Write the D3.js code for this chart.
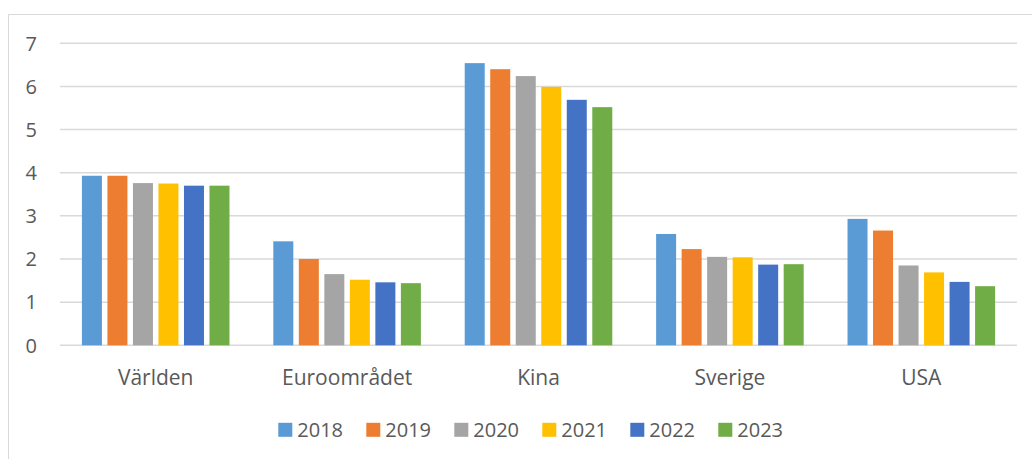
<!DOCTYPE html>
<html lang="sv">

<head>
  <meta charset="UTF-8">
  <title>Bar chart</title>
  <script src="https://cdnjs.cloudflare.com/ajax/libs/d3/7.8.5/d3.min.js"></script>
  <style>
    body {
      margin: 0;
      background: #fff;
    }

    text {
      font-family: "Open Sans", sans-serif;
      fill: #595959;
      font-size: 20px;
    }

    .grid line {
      stroke: #d9d9d9;
      stroke-width: 1.5px;
    }
  </style>
</head>

<body>
  <div id="chart"></div>
  <script>
    const categories = ["Världen", "Euroområdet", "Kina", "Sverige", "USA"];
    const years = ["2018", "2019", "2020", "2021", "2022", "2023"];
    const colors = ["#5B9BD5", "#ED7D31", "#A5A5A5", "#FFC000", "#4472C4", "#70AD47"];
    // one array per year, in category order
    const v2018 = [3.93, 2.41, 6.54, 2.58, 2.93];
    const v2019 = [3.93, 2.00, 6.40, 2.23, 2.66];
    const v2020 = [3.76, 1.65, 6.24, 2.05, 1.85];
    const v2021 = [3.75, 1.52, 5.99, 2.04, 1.69];
    const v2022 = [3.70, 1.46, 5.69, 1.87, 1.47];
    const v2023 = [3.70, 1.44, 5.52, 1.88, 1.37];
    const yTicks = [0, 1, 2, 3, 4, 5, 6, 7];

    const series = [v2018, v2019, v2020, v2021, v2022, v2023];

    const width = 1032;
    const height = 459;
    const plotLeft = 60, plotRight = 1017;

    const svg = d3.select("#chart")
      .append("svg")
      .attr("width", width)
      .attr("height", height);

    // chart frame (only top and left edges visible)
    svg.append("line")
      .attr("x1", 8.5).attr("x2", width).attr("y1", 14.5).attr("y2", 14.5)
      .attr("stroke", "#d9d9d9");
    svg.append("line")
      .attr("x1", 8.5).attr("x2", 8.5).attr("y1", 14.5).attr("y2", height)
      .attr("stroke", "#d9d9d9");

    const y = d3.scaleLinear().domain([0, 7]).range([345.3, 43.3]);

    const x0 = d3.scaleBand()
      .domain(categories)
      .range([plotLeft, plotRight])
      .paddingInner(0.229)
      .paddingOuter(0.1145);

    const x1 = d3.scaleBand()
      .domain(years)
      .range([0, x0.bandwidth()])
      .paddingInner(0.216);

    // gridlines
    svg.append("g")
      .attr("class", "grid")
      .selectAll("line")
      .data(yTicks)
      .join("line")
      .attr("x1", plotLeft)
      .attr("x2", plotRight)
      .attr("y1", d => y(d))
      .attr("y2", d => y(d));

    // y tick labels
    svg.append("g")
      .selectAll("text")
      .data(yTicks)
      .join("text")
      .attr("x", 37)
      .attr("y", d => y(d))
      .attr("dy", "0.36em")
      .attr("text-anchor", "end")
      .text(d => d);

    // bars
    const groups = svg.append("g")
      .selectAll("g")
      .data(series)
      .join("g")
      .attr("fill", (d, i) => colors[i]);

    groups.selectAll("rect")
      .data((d, i) => d.map((v, j) => ({ cat: categories[j], year: years[i], v })))
      .join("rect")
      .attr("x", d => x0(d.cat) + x1(d.year))
      .attr("width", x1.bandwidth())
      .attr("y", d => y(d.v))
      .attr("height", d => y(0) - y(d.v));

    // category labels
    svg.append("g")
      .selectAll("text")
      .data(categories)
      .join("text")
      .attr("x", d => x0(d) + x0.bandwidth() / 2)
      .attr("y", 385)
      .attr("text-anchor", "middle")
      .style("font-size", "21px")
      .text(d => d);

    // legend
    const legendStep = 88;
    const legendX = 278.3;
    const legend = svg.append("g")
      .selectAll("g")
      .data(years)
      .join("g")
      .attr("transform", (d, i) => `translate(${legendX + i * legendStep},422.8)`);

    legend.append("rect")
      .attr("width", 14)
      .attr("height", 14)
      .attr("fill", (d, i) => colors[i]);

    legend.append("text")
      .attr("x", 19)
      .attr("y", 14)
      .text(d => d);
  </script>
</body>

</html>
